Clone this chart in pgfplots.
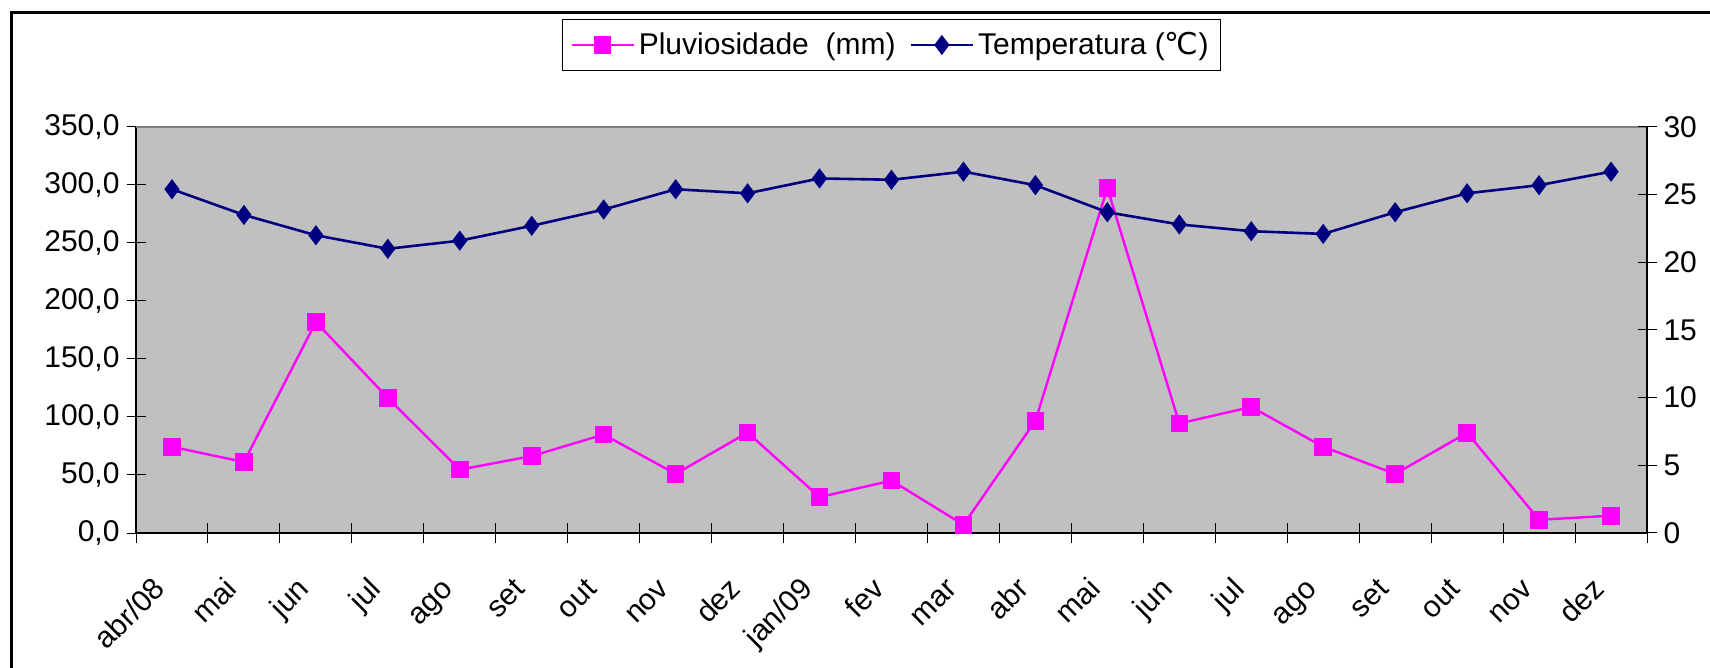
\documentclass[border=0pt]{standalone}
\usepackage{fontspec}
\setmainfont{Liberation Sans}
\newfontfamily\dejavu{DejaVu Sans}
\usepackage{pgfplots}
\usepackage{pgfplotstable}
\pgfplotsset{compat=1.18}

\definecolor{pluv}{RGB}{255,0,255}
\definecolor{temp}{RGB}{0,0,128}
\definecolor{plotbg}{RGB}{192,192,192}
\newcommand{\chartfont}{\fontsize{15bp}{17bp}\selectfont}

% mes, chuva (mm), temperatura (C)
\pgfplotstableread{
x pluv temp
0 74.3 25.4
1 61.2 23.5
2 181.9 22.0
3 116.4 21.0
4 54.6 21.6
5 66.3 22.7
6 84.9 23.9
7 50.9 25.4
8 86.6 25.1
9 30.9 26.2
10 45.2 26.1
11 7.1 26.7
12 96.7 25.7
13 297.4 23.7
14 94.4 22.8
15 108.7 22.3
16 74.3 22.1
17 50.9 23.7
18 86.4 25.1
19 11.4 25.7
20 14.9 26.7
}\dados

\pgfplotsset{
  base/.style={
    at={(68bp,67.5bp)}, anchor=south west,
    scale only axis, width=755.5bp, height=203bp,
    xmin=-0.5, xmax=20.5, ymin=0,
    tick align=center,
    major tick length=9.5bp, minor tick length=9.5bp,
    tick style={black, line width=0.5bp},
    tick label style={font=\chartfont, /pgf/number format/assume math mode=true},
    axis line style={black, line width=0.75bp, -},
  }
}

\begin{document}
\begin{tikzpicture}
\useasboundingbox (0,0) rectangle (855bp,334bp);
% moldura externa
\draw[line width=1.5bp] (5.5bp,-5bp) rectangle (870bp,327.5bp);

\begin{axis}[base,
  axis background/.style={fill=plotbg},
  axis x line*=bottom, axis y line*=left,
  ymax=350, ytick={0,50,...,350},
  yticklabel style={/pgf/number format/.cd, fixed, fixed zerofill, precision=1, use comma},
  xtick={0,...,20},
  xticklabels={abr/08,mai,jun,jul,ago,set,out,nov,dez,jan/09,fev,mar,abr,mai,jun,jul,ago,set,out,nov,dez},
  minor xtick={-0.5,0.5,...,20.5},
  major x tick style={draw=none},
  xticklabel style={yshift=-24bp, xshift=-2.5bp, rotate=45, anchor=base east, inner sep=0pt},
]
\draw[gray, line width=0.75bp] (rel axis cs:0,1) -- (rel axis cs:1,1);
\addplot[pluv, line width=1.2bp, mark=square*, mark size=3.8bp] table[x=x, y=pluv] {\dados};
\end{axis}

\begin{axis}[base,
  axis y line*=right, axis x line=none,
  ymax=30, ytick={0,5,...,30},
  legend style={at={(0.5,1.202)}, anchor=center, draw=black, line width=0.5bp,
    font=\chartfont, legend columns=2, inner xsep=4bp, inner ysep=4.5bp,
    nodes={inner sep=2bp},
    /tikz/every even column/.append style={column sep=5bp}},
  legend image code/.code={\draw[mark repeat=2, mark phase=2] plot coordinates {(0bp,0bp) (15.5bp,0bp) (31bp,0bp)};},
]
\addlegendimage{pluv, line width=1.2bp, mark=square*, mark size=3.8bp}
\addlegendentry{Pluviosidade\ \ (mm)}
\addplot[temp, line width=1.3bp, mark=diamond*, mark size=4bp] table[x=x, y=temp] {\dados};
\addlegendentry{Temperatura ({\dejavu ℃})}
\end{axis}
\end{tikzpicture}
\end{document}
